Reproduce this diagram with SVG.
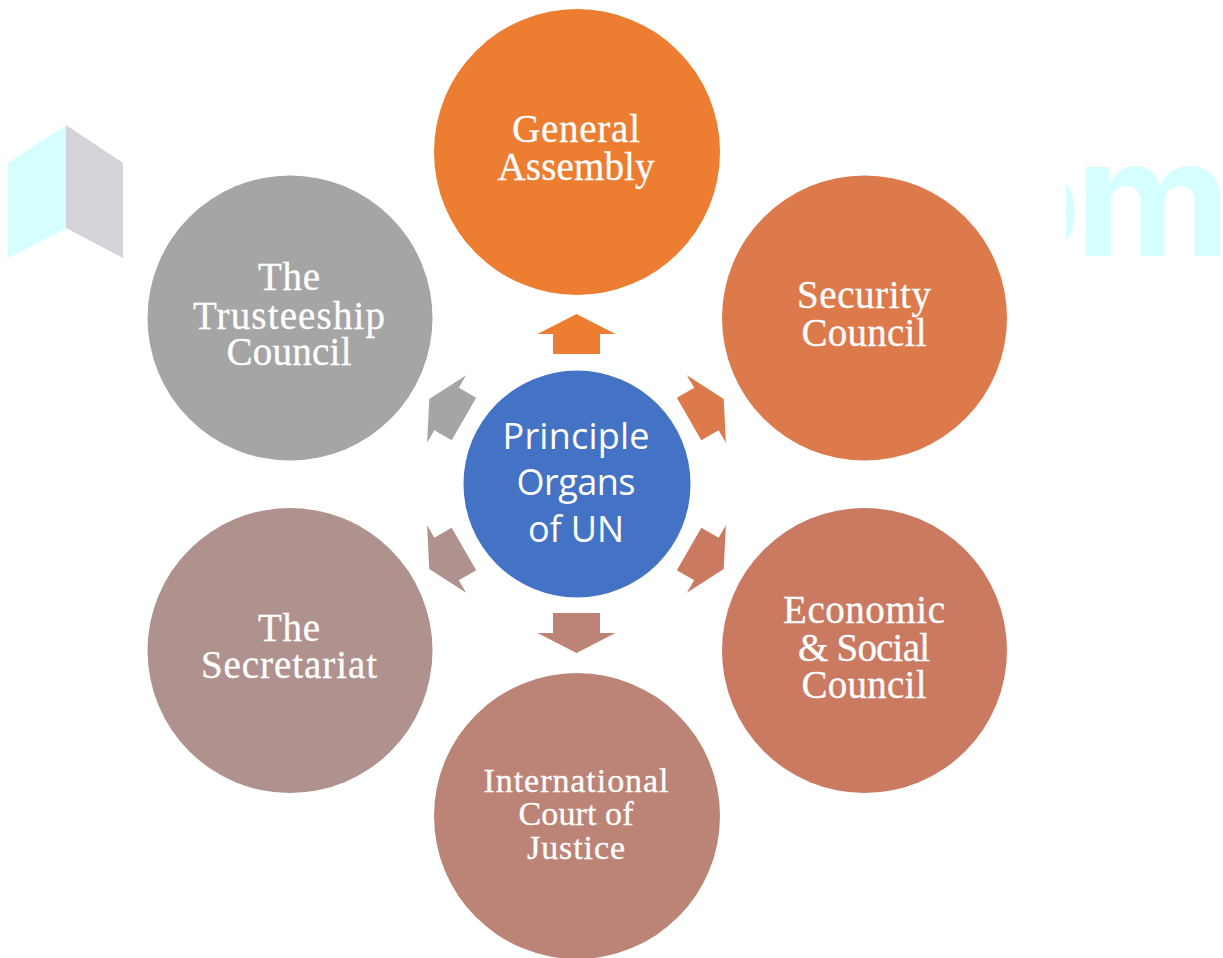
<svg xmlns="http://www.w3.org/2000/svg" width="1223" height="958" viewBox="0 0 1223 958">
<style>
.t{font-family:"Liberation Serif",serif;font-size:39px;fill:#fff;text-anchor:middle;stroke:#fff;stroke-width:.3px}
.s{font-size:34px}
.c{font-family:"Open Sans","Noto Sans",sans-serif;font-size:36px;fill:#fff;text-anchor:middle}
.w{font-family:Inter,sans-serif;font-weight:700;font-size:163px;fill:#d5ffff}
</style>
<defs>
<polygon id="arrow" points="576.5,314 615.5,334 600,334 600,354 553,354 553,334 537.5,334"/>
<polygon id="arrow2" points="576.5,314 615.5,334 601,334 601,354 552,354 552,334 537.5,334"/>
<clipPath id="oc"><rect x="1066" y="150" width="20" height="120"/></clipPath>
</defs>
<rect width="1223" height="958" fill="#fff"/>
<g id="watermark">
<polygon points="8,163 66,125 66,228 8,258" fill="#d5ffff"/>
<polygon points="66,125 123,163 123,258 66,228" fill="#d3d3d9"/>
<text class="w" x="1081" y="256" text-anchor="end" clip-path="url(#oc)">o</text>
<text class="w" x="0" y="256" transform="translate(1075 0) scale(1.045 1)">m</text>
</g>
<g id="connectors">
<use href="#arrow" fill="#ed7d31"/>
<use href="#arrow2" fill="#dc7a4c" transform="rotate(60 576.5 484)"/>
<use href="#arrow2" fill="#cb7a62" transform="rotate(120 576.5 484)"/>
<use href="#arrow" fill="#bb8477" transform="rotate(180 576.5 483.5)"/>
<use href="#arrow2" fill="#af918d" transform="rotate(240 576.5 484)"/>
<use href="#arrow2" fill="#a5a5a5" transform="rotate(300 576.5 484)"/>
</g>
<g id="center"><circle cx="577" cy="484" r="113.500" fill="#4472c4"/>
<text class="c" x="576" y="449" textLength="147">Principle</text><text class="c" x="576" y="495" textLength="119">Organs</text><text class="c" x="576" y="542" textLength="96">of UN</text></g>
<g id="general"><circle cx="577" cy="152" r="143" fill="#ed7d31"/>
<text class="t" x="576" y="142" textLength="128">General</text><text class="t" x="576" y="180" textLength="157">Assembly</text></g>
<g id="security"><circle cx="864.500" cy="318" r="142.500" fill="#dc7a4c"/>
<text class="t" x="864" y="308" textLength="134">Security</text><text class="t" x="864" y="346" textLength="125">Council</text></g>
<g id="economic"><circle cx="864.500" cy="650.500" r="142.500" fill="#cb7a62"/>
<text class="t" x="864" y="623" textLength="162">Economic</text><text class="t" x="864" y="661" textLength="132">&amp; Social</text><text class="t" x="864" y="698" textLength="125">Council</text></g>
<g id="court"><circle cx="577" cy="816" r="143" fill="#bb8477"/>
<text class="t s" x="576" y="792" textLength="185">International</text><text class="t s" x="576" y="825" textLength="115">Court of</text><text class="t s" x="576" y="859" textLength="98">Justice</text></g>
<g id="secretariat"><circle cx="290" cy="650.500" r="142.500" fill="#af918d"/>
<text class="t" x="289" y="641" textLength="62">The</text><text class="t" x="289" y="678" textLength="176">Secretariat</text></g>
<g id="trusteeship"><circle cx="290" cy="318" r="142.500" fill="#a5a5a5"/>
<text class="t" x="289" y="290" textLength="62">The</text><text class="t" x="289" y="329" textLength="192">Trusteeship</text><text class="t" x="289" y="365" textLength="125">Council</text></g>
</svg>
